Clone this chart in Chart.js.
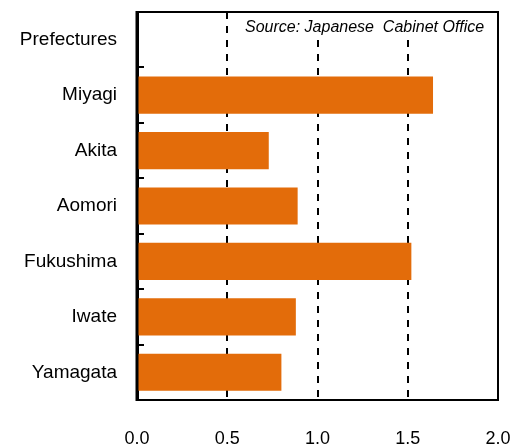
<!DOCTYPE html>
<html>
<head>
<meta charset="utf-8">
<script src="https://cdn.jsdelivr.net/npm/chart.js@4"></script>
<style>
  html, body { margin: 0; padding: 0; background: #fff; }
  #wrap { width: 525px; height: 446px; }
</style>
</head>
<body>
<div id="wrap"><canvas id="barChart" width="525" height="446"></canvas></div>
<script>
/* ===== DATA ===== */
const prefectures = ["Prefectures", "Miyagi", "Akita", "Aomori", "Fukushima", "Iwate", "Yamagata"];
const ratios = [null, 1.64, 0.73, 0.89, 1.52, 0.88, 0.80];
const xTicks = [0, 0.5, 1.0, 1.5, 2.0];
const sourceNote = "Source: Japanese  Cabinet Office";

/* ===== FRAME + SOURCE NOTE ===== */
const framePlugin = {
  id: "frame",
  afterDraw(chart) {
    const { ctx, chartArea: a } = chart;
    ctx.save();
    // white box behind the note, covers the dashed lines
    ctx.fillStyle = "#fff";
    ctx.fillRect(238, a.top + 1, a.right - 239, 26);
    ctx.font = "italic 16px 'Liberation Sans', Arial, sans-serif";
    ctx.fillStyle = "#000";
    ctx.textBaseline = "alphabetic";
    ctx.fillText(sourceNote, 245, a.top + 20);
    ctx.strokeStyle = "#000";
    ctx.lineWidth = 2;
    ctx.strokeRect(a.left, a.top, a.right - a.left, a.bottom - a.top);
    // left edge is a bit heavier
    ctx.lineWidth = 3;
    ctx.beginPath();
    ctx.moveTo(a.left, a.top - 1);
    ctx.lineTo(a.left, a.bottom + 1);
    ctx.stroke();
    ctx.restore();
  }
};

/* ===== CHART ===== */
const font = { family: "'Liberation Sans', Arial, sans-serif", size: 19 };

new Chart(document.getElementById("barChart"), {
  type: "bar",
  data: {
    labels: prefectures,
    datasets: [{
      data: ratios,
      backgroundColor: "#e36c0a",
      borderWidth: 0,
      barPercentage: 0.67,
      categoryPercentage: 1.0
    }]
  },
  options: {
    indexAxis: "y",
    responsive: false,
    animation: false,
    layout: { padding: { top: 12, right: 27, left: 0, bottom: 0 } },
    plugins: { legend: { display: false }, tooltip: { enabled: false } },
    scales: {
      x: {
        min: 0,
        max: 2,
        afterBuildTicks: s => { s.ticks = xTicks.map(v => ({ value: v })); },
        afterFit: s => { s.height = 46; s.paddingLeft = 0; s.paddingRight = 0; },
        ticks: {
          color: "#000",
          font: { family: font.family, size: 18 },
          padding: 28,
          callback: v => Number(v).toFixed(1)
        },
        grid: {
          color: c => (c.tick && (c.tick.value === 0 || c.tick.value === 2)) ? "rgba(0,0,0,0)" : "#000",
          lineWidth: 2,
          drawTicks: false
        },
        border: { display: true, color: "#000", width: 2, dash: [7, 7] }
      },
      y: {
        afterFit: s => { s.width = 137; s.paddingTop = 0; s.paddingBottom = 0; },
        ticks: { color: "#000", font, padding: 20 },
        grid: {
          offset: true,
          color: "#000",
          lineWidth: 2,
          drawTicks: false
        },
        // short dash = little tick mark inside the frame
        border: { display: true, color: "#000", width: 3, dash: [5, 2000] }
      }
    }
  },
  plugins: [framePlugin]
});
</script>
</body>
</html>
